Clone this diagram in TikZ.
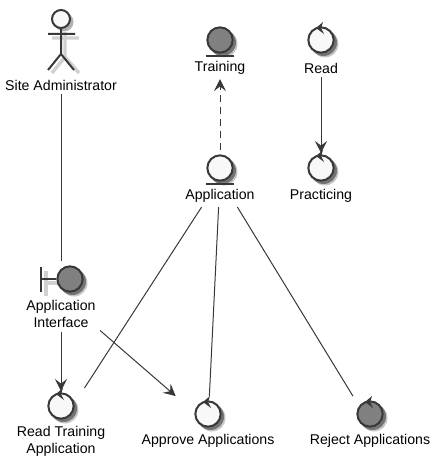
\documentclass[tikz,border=0pt]{standalone}
\usepackage{fontspec}
\setmainfont{Liberation Sans}
\usetikzlibrary{arrows.meta,fit,backgrounds}
\definecolor{linecol}{HTML}{383838}
\definecolor{lightfill}{HTML}{F8F8F8}
\definecolor{darkfill}{HTML}{808080}
\tikzset{
  symbol/.style={circle,draw=linecol,fill=lightfill,line width=1.5pt,minimum size=19pt,inner sep=0pt},
  darksymbol/.style={symbol,fill=darkfill},
  caption/.style={inner sep=0pt,align=center,font=\fontsize{10.6pt}{12.75pt}\selectfont},
  group/.style={inner sep=3pt},
  stroke/.style={draw=linecol,line width=1.5pt},
  ghost/.style={draw=black!18,line width=2.6pt},
  link/.style={draw=linecol,line width=.75pt},
  tip/.style={-{Stealth[length=9pt,width=9pt,inset=3.5pt]}},
  controlmark/.pic={\fill[linecol] (-5,-12)--(2,-18)--(0,-12)--(3,-6)--cycle;},
  shadowdisc/.pic={\fill[black!22] (4,4) circle[radius=13.5];\fill[black!55] (2.5,2.5) circle[radius=13.5];}
}
\begin{document}
\begin{tikzpicture}[x=.75pt,y=-.75pt]
\useasboundingbox (0,0) rectangle (441,466);
% actor
\node[symbol,minimum size=13.5pt] (head) at (61,19) {};
\draw[stroke] (head.south)--++(0,25) coordinate (hip) (48,34)--(75,34) (hip)--++(-13,16) (hip)--++(13,16);
\node[caption] (siteadmin) at (61,85.5) {Site Administrator};
% symbols
\node[darksymbol] (training) at (220,40) {};
\node[symbol] (read) at (321,40) {};
\node[symbol] (application) at (220,168) {};
\node[symbol] (practicing) at (321,168) {};
\node[darksymbol] (interface) at (70,279) {};
\node[symbol] (readapp) at (61,406) {};
\node[symbol] (approve) at (208,414) {};
\node[darksymbol] (reject) at (370,414) {};
% marks on the symbols
\foreach \n in {training,application}{\draw[stroke] ([yshift=-1.5pt]\n.south -| \n.west)--([yshift=-1.5pt]\n.south -| \n.east);}
\foreach \n in {read,practicing,readapp,approve,reject}{\path (\n) pic {controlmark};}
\coordinate (bartop) at (41,267);
\coordinate (barfoot) at (41,292);
\draw[stroke] (interface.west)--(bartop |- interface) (bartop)--(barfoot);
% shadows
\begin{scope}[on background layer]
\foreach \n in {training,read,application,practicing,interface,readapp,approve,reject}{\path (\n) pic {shadowdisc};}
\fill[black!30] (64,22) circle[radius=9.5];
\draw[ghost] (65,32)--(65,57) (52,38)--(79,38) (65,57)--(52,73) (65,57)--(79,73);
\draw[ghost,line width=3.5pt] (46,271)--(46,296) (46,283)--(60,283);
\end{scope}
% captions
\node[caption] (trainingtext) at (220,68) {Training};
\node[caption] (readtext) at (321,68) {Read};
\node[caption] (applicationtext) at (220,196) {Application};
\node[caption] (practicingtext) at (321,196) {Practicing};
\node[caption] (interfacetext) at (61,314) {Application\\Interface};
\node[caption] (readapptext) at (61,441) {Read Training\\Application};
\node[caption] (approvetext) at (208,441) {Approve Applications};
\node[caption] (rejecttext) at (370,441) {Reject Applications};
% groups the connectors run between
\node[group,fit=(training)(trainingtext)] (trainingbox) {};
\node[group,fit=(application)(applicationtext)] (applicationbox) {};
\node[group,fit=(interface)(interfacetext)(bartop)] (interfacebox) {};
\node[group,fit=(readapp)(readapptext)] (readappbox) {};
\node[group,fit=(approve)(approvetext)] (approvebox) {};
\node[group,fit=(reject)(rejecttext)] (rejectbox) {};
% connectors
\draw[link,shorten <=2pt] (siteadmin.south)--(siteadmin.south |- interfacebox.north);
\draw[link,tip,dash pattern=on 5pt off 4pt] (applicationbox)--(trainingbox);
\draw[link,tip,shorten <=3pt,shorten >=1pt] (readtext.south)--(practicing.north);
\draw[link,tip,shorten <=3pt,shorten >=1pt] (interfacetext.south)--(readapp.north);
\draw[link,tip] (interfacebox)--(approvebox);
\draw[link] (applicationbox)--(readappbox);
\draw[link] (applicationbox)--(approvebox);
\draw[link] (applicationbox)--(rejectbox);
\end{tikzpicture}
\end{document}
